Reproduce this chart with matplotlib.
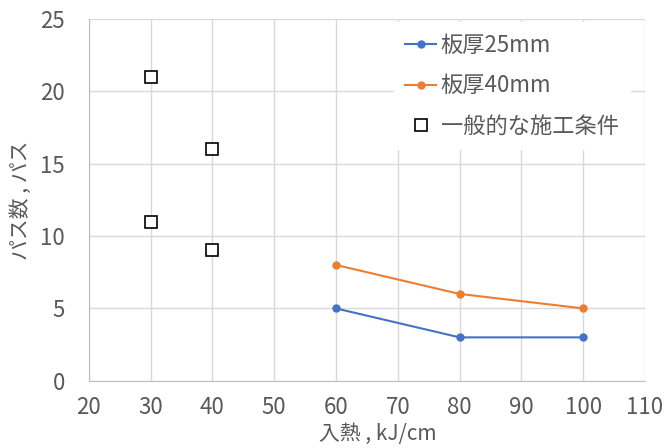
import matplotlib
matplotlib.use("Agg")
import matplotlib.pyplot as plt

plt.rcParams['font.family'] = ['Noto Sans CJK JP', 'DejaVu Sans']

x_25 = [60, 80, 100]
y_25 = [5, 3, 3]
x_40 = [60, 80, 100]
y_40 = [8, 6, 5]
x_gen = [30, 30, 40, 40]
y_gen = [21, 11, 16, 9]

labels = ['板厚25mm', '板厚40mm', '一般的な施工条件']
tc = '#595959'

fig = plt.figure(figsize=(6.67, 4.48), dpi=100)
ax = fig.add_axes([0.133, 0.150, 0.834, 0.808])

ax.plot(x_25, y_25, color='#4472C4', marker='o', markersize=5, lw=1.5, label=labels[0], zorder=3)
ax.plot(x_40, y_40, color='#ED7D31', marker='o', markersize=5, lw=1.5, label=labels[1], zorder=3)
ax.plot(x_gen, y_gen, ls='none', marker='s', markersize=8, mfc='white', mec='black', mew=1.2, label=labels[2], zorder=3)

ax.set_xlim(20, 110)
ax.set_ylim(0, 25)
ax.set_xticks(range(20, 111, 10))
ax.set_yticks(range(0, 26, 5))
ax.grid(True, color='#D9D9D9', lw=1)
ax.set_axisbelow(True)
for s in ['top', 'right']:
    ax.spines[s].set_visible(False)
for s in ['left', 'bottom']:
    ax.spines[s].set_color('#BFBFBF')
ax.tick_params(length=0, labelsize=16, colors=tc)
ax.tick_params(axis='x', pad=11)
ax.tick_params(axis='y', pad=17)

ax.set_xlabel('入熱 , kJ/cm', fontsize=15, color=tc)
ax.xaxis.set_label_coords(0.52, -0.117)
ax.set_ylabel('パス数 , パス', fontsize=15, color=tc, labelpad=6)

leg = ax.legend(loc='upper left', bbox_to_anchor=(0.549, 0.99), frameon=True, fontsize=16,
                handlelength=1.4, handletextpad=0.2, labelspacing=0.8, borderaxespad=0.0,
                borderpad=0.5)
leg.get_frame().set_edgecolor('white')
leg.get_frame().set_facecolor('white')
leg.get_frame().set_alpha(1)
for t in leg.get_texts():
    t.set_color(tc)

fig.savefig('out.png', dpi=100)
